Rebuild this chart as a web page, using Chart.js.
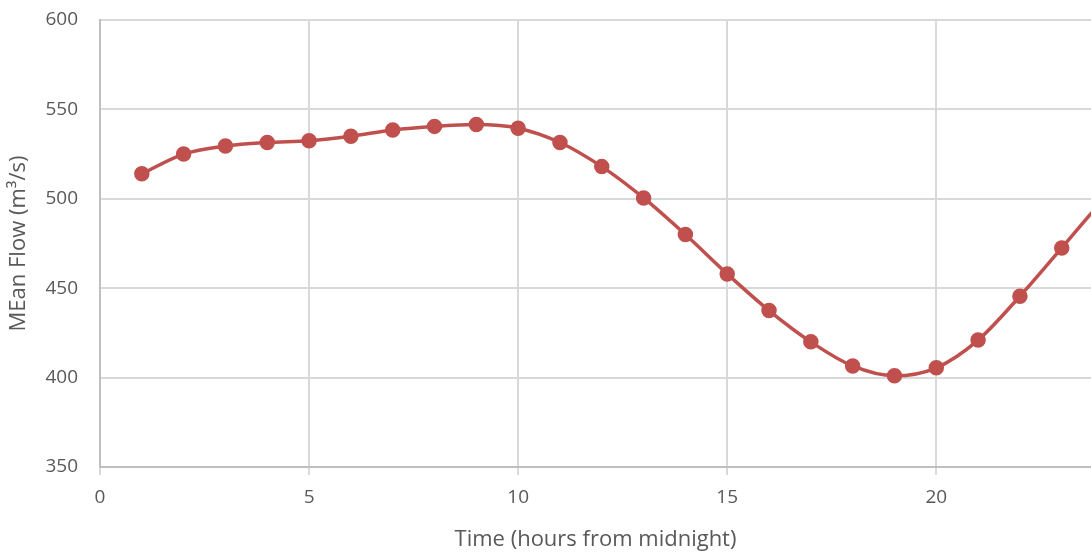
<!DOCTYPE html>
<html>
<head>
<meta charset="utf-8">
<script src="https://cdn.jsdelivr.net/npm/chart.js@4"></script>
<style>
  body { margin: 0; background: #fff; }
  #wrap { width: 1091px; height: 553px; }
</style>
</head>
<body>
<div id="wrap"><canvas id="flowChart"></canvas></div>
<script>
// Ore dalla mezzanotte e portata media
let hours = [1, 2, 3, 4, 5, 6, 7, 8, 9, 10, 11, 12, 13, 14, 15, 16, 17, 18, 19, 20, 21, 22, 23, 24];
let meanFlow = [514, 525, 529.5, 531.5, 532.5, 535, 538.5, 540.5, 541.5, 539.5, 531.5, 518, 500.5, 480, 458, 437.5, 420, 406.5, 401, 405.5, 421, 445.5, 472.5, 500];
let yTicks = [350, 400, 450, 500, 550, 600];
let xTicks = [0, 5, 10, 15, 20];

let points = hours.map((h, i) => ({ x: h, y: meanFlow[i] }));
let fontFamily = "'Open Sans', Lato, sans-serif";

new Chart("flowChart", {
  type: "line",
  data: {
    datasets: [{
      data: points,
      borderColor: "#c0504d",
      backgroundColor: "#c0504d",
      borderWidth: 3.5,
      pointRadius: 6,
      pointHoverRadius: 6,
      tension: 0.4,
      cubicInterpolationMode: "monotone"
    }]
  },
  options: {
    responsive: true,
    maintainAspectRatio: false,
    animation: false,
    events: [],
    layout: { autoPadding: false, padding: { top: 0, right: 0, left: 6, bottom: 0 } },
    plugins: { legend: { display: false }, tooltip: { enabled: false } },
    scales: {
      x: {
        type: "linear",
        min: 0,
        max: 23.7,
        afterBuildTicks: axis => { axis.ticks = xTicks.map(v => ({ value: v })); },
        afterFit: axis => { axis.height = 86; axis.paddingLeft = 0; axis.paddingRight = 0; },
        ticks: { includeBounds: false, color: "#595959", font: { family: fontFamily, size: 19 }, padding: 11 },
        grid: { color: "#d9d9d9", lineWidth: 2, tickLength: 8, tickColor: "#d9d9d9" },
        border: { color: "#bfbfbf", width: 2 },
        title: { display: true, text: "Time (hours from midnight)", color: "#595959", font: { family: fontFamily, size: 22 }, padding: { top: 0, bottom: 0 } }
      },
      y: {
        min: 350,
        max: 600,
        afterBuildTicks: axis => { axis.ticks = yTicks.map(v => ({ value: v })); },
        afterFit: axis => { axis.width = 94; axis.paddingTop = 20; axis.paddingBottom = 0; },
        ticks: { color: "#595959", font: { family: fontFamily, size: 19 }, padding: 22 },
        grid: { color: "#d9d9d9", lineWidth: 2, drawTicks: false },
        border: { color: "#bfbfbf", width: 2 },
        title: { display: true, text: "MEan Flow (m³/s)", color: "#595959", font: { family: fontFamily, size: 22 }, padding: { top: 0, bottom: 0 } }
      }
    }
  }
});
</script>
</body>
</html>
